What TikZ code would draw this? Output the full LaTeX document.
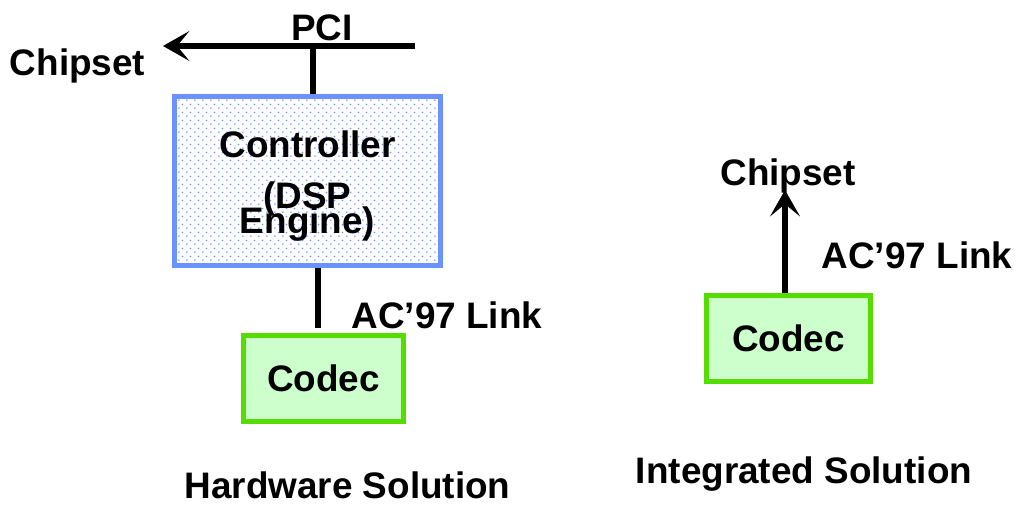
\documentclass[tikz,border=0pt]{standalone}
\usepackage{fontspec}
\setmainfont{Liberation Sans}
\usetikzlibrary{positioning}
\usetikzlibrary{arrows.meta}
\usetikzlibrary{patterns.meta}
\definecolor{ctrlblue}{HTML}{6B93FF}
\definecolor{codecgreen}{HTML}{55DD00}
\definecolor{codecfill}{HTML}{CCFFCC}
\tikzdeclarepattern{
	name=ctrldots, type=uncolored,
	bounding box={(0,0) and (4.6pt,4.6pt)},
	tile size={(4.6pt,4.6pt)},
	code={
		\fill (1.15pt,1.15pt) circle (0.55pt);
		\fill (3.45pt,3.45pt) circle (0.55pt);
	}
}
\tikzset{
	every node/.style={font=\fontsize{21}{25}\selectfont\bfseries, align=center},
	every path/.style={line width=3pt},
	ctrlbox/.style={draw=ctrlblue, pattern=ctrldots, pattern color=ctrlblue, minimum width=5.32cm, minimum height=3.38cm, inner sep=0pt},
	codecbox/.style={draw=codecgreen, fill=codecfill, minimum height=1.72cm, inner sep=0pt},
	lbl/.style={anchor=base, inner sep=0pt},
	bus/.style={-{Stealth[length=15pt, width=17pt, inset=7pt]}}
}

\begin{document}
\begin{tikzpicture}[x=0.02cm, y=-0.02cm]
	\useasboundingbox (0,0) rectangle (1020,504);
	% Hardware solution
	\node (ctrl) [ctrlbox] at (307.5,181) {};
	\node (ctrltext) [inner sep=0pt] at (307.5,186) {Controller\\[4.5pt](DSP\\[-10.8pt]Engine)};
	\node (codec1) [codecbox, minimum width=3.2cm] at (323.5,378.5) {Codec};
	\coordinate (pcir) at (415,46);
	\coordinate (pcil) at (163,46);
	\coordinate (pcij) at (313,46);
	\node (pci) [lbl] at (322,40) {PCI};
	\node (chip1) [lbl] at (77.5,75) {Chipset};
	\node (link1) [lbl] at (447,328) {AC’97 Link};
	\node (hw) [lbl] at (347.5,498) {Hardware Solution};
	
	\draw[bus] (pcir) -- (pcil);
	\draw (pcij) -- (pcij |- ctrl.north);
	\draw ([xshift=-0.11cm]codec1.north |- ctrl.south) -- ([xshift=-0.11cm,yshift=0.1cm]codec1.north);
	
	% Integrated solution
	\node (codec2) [codecbox, minimum width=3.28cm] at (788.5,338.5) {Codec};
	\node (chip2) [lbl] at (788,185) {Chipset};
	\node (link2) [lbl] at (917,268) {AC’97 Link};
	\node (integ) [lbl] at (804,483) {Integrated Solution};
	
	\draw[bus] ([xshift=-0.07cm]codec2.north) -- ([xshift=-0.07cm,yshift=-0.1cm]codec2.north |- chip2.base);
\end{tikzpicture}
\end{document}
